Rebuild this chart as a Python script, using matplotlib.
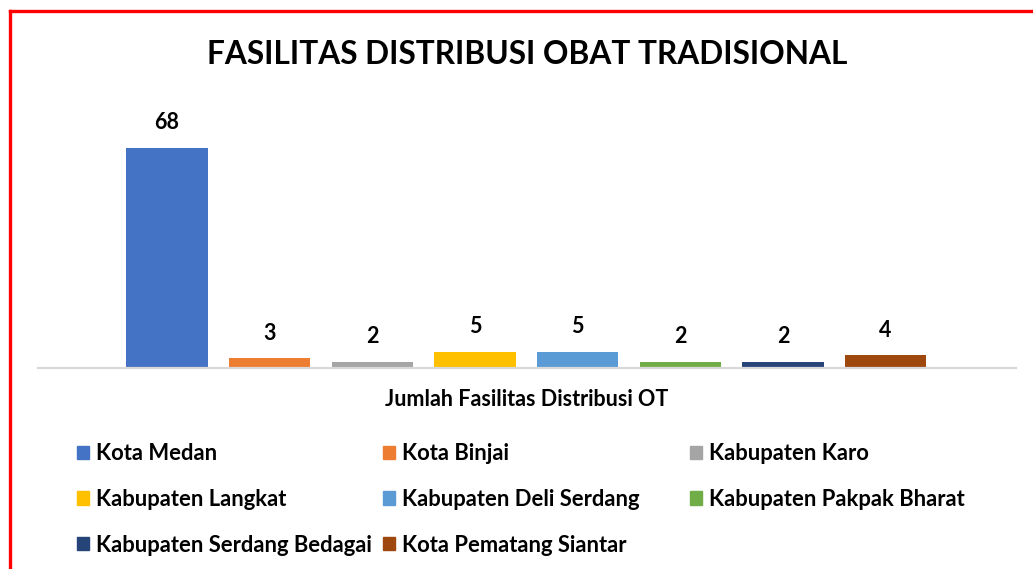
import matplotlib.pyplot as plt
from matplotlib.patches import Patch
from matplotlib.lines import Line2D

plt.rcParams['font.family'] = ['Lato', 'DejaVu Sans']

# data
kab_kota = ['Kota Medan', 'Kota Binjai', 'Kabupaten Karo', 'Kabupaten Langkat',
            'Kabupaten Deli Serdang', 'Kabupaten Pakpak Bharat',
            'Kabupaten Serdang Bedagai', 'Kota Pematang Siantar']
jumlah = [68, 3, 2, 5, 5, 2, 2, 4]
warna = ['#4472C4', '#ED7D31', '#A5A5A5', '#FFC000',
         '#5B9BD5', '#70AD47', '#264478', '#9E480E']

W, H = 1033, 569
fig = plt.figure(figsize=(W / 100, H / 100), dpi=100)
ax = fig.add_axes([38 / W, 1 - 368 / H, (1016 - 38) / W, (368 - 100) / H])

x = list(range(len(jumlah)))
ax.bar(x, jumlah, width=0.79, color=warna)
ax.set_xlim(-1.256, 8.27)
ax.set_ylim(0, 82.8)

for xi, v in zip(x, jumlah):
    ax.annotate(str(v), xy=(xi, v), xytext=(0, 18), textcoords='offset points',
                ha='center', va='center', fontsize=15.5, fontweight='bold')

for s in ['top', 'left', 'right']:
    ax.spines[s].set_visible(False)
ax.spines['bottom'].set_color('#d9d9d9')
ax.spines['bottom'].set_linewidth(1.6)
ax.set_xticks([])
ax.set_yticks([])

fig.text(527 / W, 1 - 55 / H, 'FASILITAS DISTRIBUSI OBAT TRADISIONAL',
         ha='center', va='center', fontsize=22.8, fontweight='bold')
fig.text(527 / W, 1 - 400 / H, 'Jumlah Fasilitas Distribusi OT',
         ha='center', va='center', fontsize=15.5, fontweight='bold')

# legend, three columns filled row by row
kolom_x = [77, 383, 690]
for c in range(3):
    idx = list(range(c, len(jumlah), 3))
    handles = [Patch(color=warna[i]) for i in idx]
    labels = [kab_kota[i] for i in idx]
    fig.legend(handles, labels, loc='upper left',
               bbox_to_anchor=(kolom_x[c] / W, 1 - 443 / H),
               frameon=False, prop={'weight': 'bold', 'size': 15.8},
               handlelength=0.55, handleheight=0.55, handletextpad=0.3,
               labelspacing=1.13, borderpad=0, borderaxespad=0)

# red frame (left and top edges)
fig.add_artist(Line2D([10 / W, 10 / W], [0, 1 - 11 / H], color='red', lw=2.4,
                      transform=fig.transFigure))
fig.add_artist(Line2D([10 / W, 1], [1 - 11 / H, 1 - 11 / H], color='red', lw=2.4,
                      transform=fig.transFigure))

fig.savefig('out.png', dpi=100)
